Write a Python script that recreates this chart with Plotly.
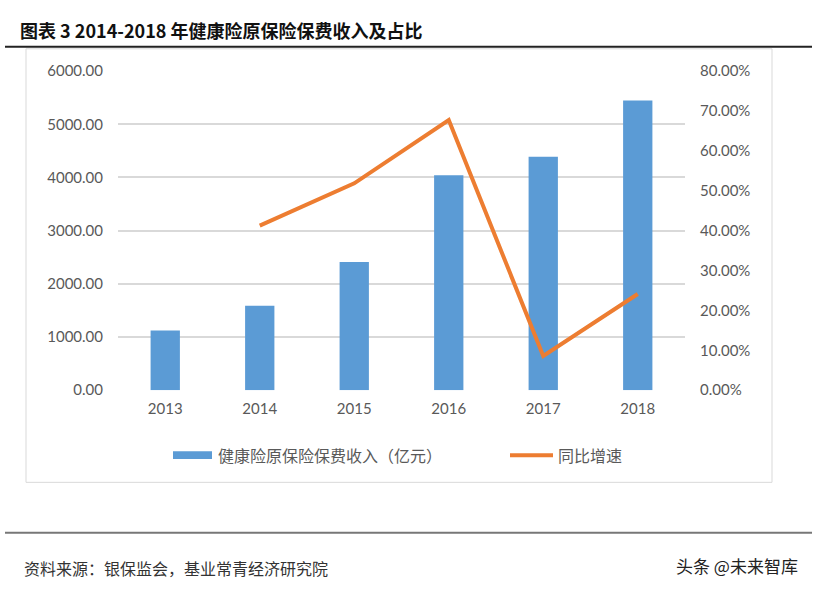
import plotly.graph_objects as go

years = ["2013", "2014", "2015", "2016", "2017", "2018"]
premium = [1123.5, 1587.2, 2410.5, 4042.5, 4389.5, 5448.1]
growth_years = ["2014", "2015", "2016", "2017", "2018"]
growth = [0.4127, 0.5187, 0.6771, 0.0858, 0.2412]

W, H = 814, 598
def px(x): return x / W
def py(y): return 1 - y / H

fig = go.Figure()
fig.add_trace(go.Bar(x=years, y=premium, name="健康险原保险保费收入（亿元）",
                     marker=dict(color="#5B9BD5", line=dict(width=0)), width=0.31,
                     yaxis="y"))
fig.add_trace(go.Scatter(x=growth_years, y=growth, name="同比增速", mode="lines",
                         line=dict(color="#ED7D31", width=4), yaxis="y2"))

tickfont = dict(family="Lato, Liberation Sans, sans-serif", size=15, color="#595959")
fig.update_layout(
    width=W, height=H, margin=dict(l=0, r=0, t=0, b=0),
    paper_bgcolor="white", plot_bgcolor="white", showlegend=False,
    xaxis=dict(domain=[px(118), px(685)], tickfont=tickfont, showgrid=False,
               showline=False, ticks="", anchor="y", ticklabelstandoff=8),
    yaxis=dict(domain=[py(392), py(63)], range=[0, 6000], dtick=1000,
               tickformat=".2f", tickfont=tickfont, gridcolor="#D9D9D9",
               gridwidth=1.5, zeroline=False, showline=False, ticks="",
               ticklabelstandoff=14),
    yaxis2=dict(domain=[py(392), py(63)], range=[0, 0.8], dtick=0.1,
                tickformat=".2%", tickfont=tickfont, overlaying="y", side="right",
                showgrid=False, zeroline=False, showline=False, ticks="",
                ticklabelstandoff=14),
)

shapes = [
    dict(type="line", xref="paper", yref="paper", x0=px(5), x1=px(812), y0=py(38), y1=py(38),
         line=dict(color="#222222", width=2)),
    dict(type="rect", xref="paper", yref="paper", x0=px(26), x1=px(772), y0=py(487), y1=py(40),
         line=dict(color="#D9D9D9", width=1)),
    dict(type="line", xref="paper", yref="paper", x0=px(5), x1=px(812), y0=py(539), y1=py(539),
         line=dict(color="#777777", width=2)),
    dict(type="rect", xref="paper", yref="paper", x0=px(173), x1=px(212), y0=py(463), y1=py(455),
         fillcolor="#5B9BD5", line=dict(width=0)),
    dict(type="line", xref="paper", yref="paper", x0=px(510), x1=px(553), y0=py(459), y1=py(459),
         line=dict(color="#ED7D31", width=4)),
]
fig.update_layout(shapes=shapes)

cjk = "Noto Sans CJK SC"
annotations = [
    dict(text="<b>图表 3 2014-2018 年健康险原保险保费收入及占比</b>", x=px(18), y=py(21),
         xref="paper", yref="paper", xanchor="left", yanchor="middle", showarrow=False,
         font=dict(family=cjk, size=18, color="#111111")),
    dict(text="健康险原保险保费收入（亿元）", x=px(216), y=py(459), xref="paper", yref="paper",
         xanchor="left", yanchor="middle", showarrow=False,
         font=dict(family=cjk, size=16, color="#595959")),
    dict(text="同比增速", x=px(556), y=py(459), xref="paper", yref="paper",
         xanchor="left", yanchor="middle", showarrow=False,
         font=dict(family=cjk, size=16, color="#595959")),
    dict(text="资料来源：银保监会，基业常青经济研究院", x=px(22), y=py(575), xref="paper", yref="paper",
         xanchor="left", yanchor="middle", showarrow=False,
         font=dict(family=cjk, size=16, color="#333333")),
    dict(text="头条 @未来智库", x=px(800), y=py(573), xref="paper", yref="paper",
         xanchor="right", yanchor="middle", showarrow=False,
         font=dict(family=cjk, size=17, color="#222222")),
]
fig.update_layout(annotations=annotations)

post = (
    "var d=document.getElementById('{plot_id}');"
    "d.style.position='fixed';d.style.top='0px';d.style.left='0px';"
    "document.documentElement.style.margin='0';document.documentElement.style.overflow='hidden';"
    "document.body.style.margin='0';document.body.style.padding='0';document.body.style.overflow='hidden';"
)
fig.write_html("out.html", config={"displayModeBar": False}, post_script=post)
